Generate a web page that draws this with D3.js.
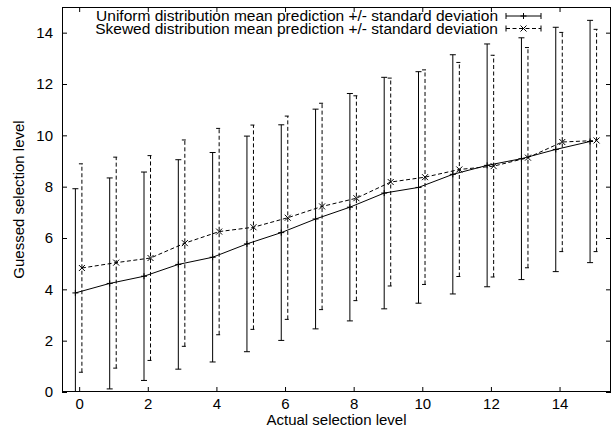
<!DOCTYPE html>
<html><head><meta charset="utf-8">
<script src="https://cdn.jsdelivr.net/npm/d3@7/dist/d3.min.js"></script>
<style>
html,body{margin:0;padding:0;background:#fff;}
text{font-family:"Liberation Sans",Arial,Helvetica,sans-serif;fill:#000;}
</style></head>
<body>
<svg id="chart" width="613" height="431"></svg>
<script>
const levels = [0,1,2,3,4,5,6,7,8,9,10,11,12,13,14,15];
const uniformMean = [3.86,4.23,4.51,4.97,5.25,5.77,6.21,6.74,7.20,7.75,7.97,8.48,8.83,9.09,9.45,9.76];
const uniformSd   = [4.06,4.11,4.06,4.08,4.08,4.20,4.20,4.28,4.43,4.51,4.51,4.66,4.73,4.71,4.76,4.72];
const skewedMean  = [4.83,5.04,5.22,5.80,6.25,6.42,6.79,7.23,7.55,8.18,8.37,8.67,8.80,9.13,9.74,9.80];
const skewedSd    = [4.06,4.11,3.99,4.02,4.02,3.98,3.96,4.02,3.99,4.05,4.18,4.17,4.32,4.29,4.27,4.33];
const xTicks = [0,2,4,6,8,10,12,14];
const yTicks = [0,2,4,6,8,10,12,14];
const seriesNames = ["Uniform distribution mean prediction +/- standard deviation",
                     "Skewed distribution mean prediction +/- standard deviation"];

const svg = d3.select("#chart");
const L = 62, R = 611, T = 7, B = 392;
const x = d3.scaleLinear().domain([-0.5, 15.5]).range([L, R]);
const y = d3.scaleLinear().domain([0, 15]).range([B, T]);

const series = [
  {name: seriesNames[0], mean: uniformMean, sd: uniformSd, off: -0.11, dash: null, marker: "plus"},
  {name: seriesNames[1], mean: skewedMean, sd: skewedSd, off: 0.08, dash: "4,2.5", marker: "cross"}
];

svg.append("defs").append("clipPath").attr("id","clip")
  .append("rect").attr("x",L).attr("y",T).attr("width",R-L).attr("height",B-T);

// axes (ticks inside, mirrored)
const tk = 5;
const axB = d3.axisBottom(x).tickValues(xTicks).tickSizeInner(-tk).tickSizeOuter(0).tickPadding(6);
const axT = d3.axisTop(x).tickValues(xTicks).tickSizeInner(-tk).tickSizeOuter(0).tickFormat("");
const axL = d3.axisLeft(y).tickValues(yTicks).tickSizeInner(-tk).tickSizeOuter(0).tickPadding(9);
const axR = d3.axisRight(y).tickValues(yTicks).tickSizeInner(-tk).tickSizeOuter(0).tickFormat("");
function style(g){ g.select(".domain").remove(); g.selectAll("line").attr("stroke","#000"); g.selectAll("text").style("font-size","15px").attr("fill","#000"); }
svg.append("g").attr("transform",`translate(0,${B})`).call(axB).call(style);
svg.append("g").attr("transform",`translate(0,${T})`).call(axT).call(style);
svg.append("g").attr("transform",`translate(${L},0)`).call(axL).call(style);
svg.append("g").attr("transform",`translate(${R},0)`).call(axR).call(style);

svg.append("rect").attr("x",L+0.5).attr("y",T+0.5).attr("width",R-L-1).attr("height",B-T-1)
  .attr("fill","none").attr("stroke","#000").attr("stroke-width",1);

const plot = svg.append("g").attr("clip-path","url(#clip)");
const cap = 3;
function marker(g, type, cx, cy){
  const s = 3;
  if(type==="plus"){
    g.append("line").attr("x1",cx-s).attr("x2",cx+s).attr("y1",cy).attr("y2",cy);
    g.append("line").attr("x1",cx).attr("x2",cx).attr("y1",cy-s).attr("y2",cy+s);
  } else {
    g.append("line").attr("x1",cx-s).attr("x2",cx+s).attr("y1",cy-s).attr("y2",cy+s);
    g.append("line").attr("x1",cx-s).attr("x2",cx+s).attr("y1",cy+s).attr("y2",cy-s);
  }
}
series.forEach(s => {
  const g = plot.append("g").attr("stroke","#000").attr("stroke-width",1).attr("fill","none");
  const pts = levels.map((l,i)=>({cx:x(l+s.off), m:s.mean[i], sd:s.sd[i]}));
  pts.forEach(p => {
    const eb = g.append("g").attr("stroke-dasharray", s.dash);
    eb.append("line").attr("x1",p.cx).attr("x2",p.cx).attr("y1",y(p.m-p.sd)).attr("y2",y(p.m+p.sd));
    [p.m-p.sd, p.m+p.sd].forEach(v => eb.append("line").attr("stroke-dasharray",null)
      .attr("x1",p.cx-cap).attr("x2",p.cx+cap).attr("y1",y(v)).attr("y2",y(v)));
  });
  g.append("path").attr("d", d3.line().x(p=>p.cx).y(p=>y(p.m))(pts)).attr("stroke-dasharray", s.dash);
  const mg = g.append("g");
  pts.forEach(p => marker(mg, s.marker, p.cx, y(p.m)));
});

// legend
const lx1 = 506, lx2 = 541, ltx = 498;
series.forEach((s,i) => {
  const ly = 16 + i*12.5;
  svg.append("text").attr("x",ltx).attr("y",ly).attr("dy","0.35em").attr("text-anchor","end")
    .style("font-size","15.5px").text(s.name);
  const g = svg.append("g").attr("stroke","#000").attr("stroke-width",1);
  g.append("line").attr("x1",lx1).attr("x2",lx2).attr("y1",ly).attr("y2",ly).attr("stroke-dasharray",s.dash);
  g.append("line").attr("x1",lx1).attr("x2",lx1).attr("y1",ly-cap).attr("y2",ly+cap);
  g.append("line").attr("x1",lx2).attr("x2",lx2).attr("y1",ly-cap).attr("y2",ly+cap);
  marker(g, s.marker, (lx1+lx2)/2, ly);
});

// axis titles
svg.append("text").attr("x",(L+R)/2).attr("y",425).attr("text-anchor","middle")
  .style("font-size","15px").text("Actual selection level");
svg.append("text").attr("transform",`translate(24,${(T+B)/2}) rotate(-90)`).attr("text-anchor","middle")
  .style("font-size","15px").text("Guessed selection level");
</script>
</body></html>
